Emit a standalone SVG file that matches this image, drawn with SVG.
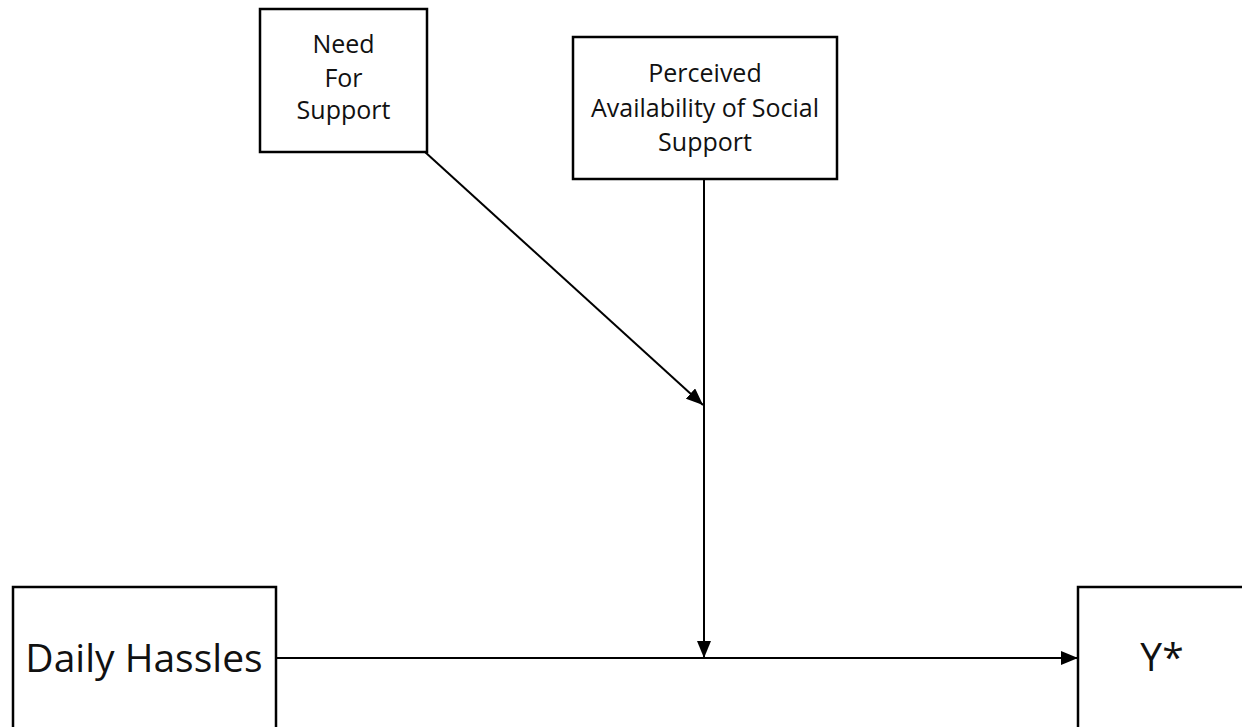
<svg xmlns="http://www.w3.org/2000/svg" width="1242" height="727" viewBox="0 0 1242 727">
<style>
.box{fill:#fff;stroke:#000;stroke-width:2.5}
.t{font-family:"Open Sans","Liberation Sans",sans-serif;fill:#111;text-anchor:middle}
.s{font-size:25px}
.l{font-size:39px}
.c{stroke:#000;stroke-width:2;fill:none}
</style>
<defs>
<marker id="ah" markerUnits="userSpaceOnUse" markerWidth="18" markerHeight="14" refX="17" refY="7" orient="auto">
<path d="M0,0 L17,7 L0,14 Z" fill="#000"/>
</marker>
</defs>
<rect width="1242" height="727" fill="#fff"/>
<g id="need">
<rect class="box" x="260" y="9" width="167" height="143"/>
<text class="t s" x="343.5" y="53">Need</text>
<text class="t s" x="343.5" y="87">For</text>
<text class="t s" x="343.5" y="119">Support</text>
</g>
<g id="perceived">
<rect class="box" x="573" y="37" width="264" height="142"/>
<text class="t s" x="705" y="82">Perceived</text>
<text class="t s" x="705" y="117">Availability of Social</text>
<text class="t s" x="705" y="151">Support</text>
</g>
<g id="daily">
<rect class="box" x="13" y="587" width="263" height="160"/>
<text class="t l" x="144" y="672">Daily Hassles</text>
</g>
<g id="y">
<rect class="box" x="1078" y="587" width="180" height="160"/>
<text class="t l" x="1162" y="671">Y*</text>
</g>
<g id="connectors">
<line class="c" x1="276" y1="658" x2="1078" y2="658" marker-end="url(#ah)"/>
<line class="c" x1="704" y1="179" x2="704" y2="658" marker-end="url(#ah)"/>
<line class="c" x1="425" y1="152" x2="703" y2="405" marker-end="url(#ah)"/>
</g>
</svg>
